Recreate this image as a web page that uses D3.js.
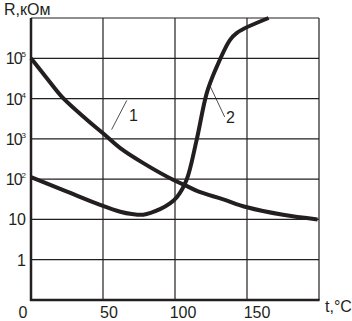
<!DOCTYPE html>
<html><head><meta charset="utf-8">
<script src="https://cdn.jsdelivr.net/npm/d3@7"></script>
<style>body{margin:0;background:#fff}svg{display:block}text{font-family:"Liberation Sans",Arial,sans-serif;fill:#231f20}</style>
</head><body>
<script>
const xTicks = [0, 50, 100, 150];
const xGrid = [50, 100, 150, 200];
const yTicks = [1, 10, 100, 1000, 10000, 100000];
const yTickExp = [null, null, 2, 3, 4, 5];
const yGrid = [1, 10, 100, 1000, 10000, 100000, 1000000];

const curve1T = [0, 11, 22, 39, 50, 62, 78, 99, 108, 117, 133, 150, 175, 199];
const curve1R = [100000, 32000, 10500, 2950, 1380, 590, 250, 95, 68, 48, 32, 20, 13, 10];

const curve2T = [0, 25, 48, 62, 70, 78, 89.6, 96.5, 101.4, 108, 115, 122, 128, 138, 143, 165];
const curve2R = [112, 49, 23, 15.5, 13.6, 13.1, 18, 25, 36, 95, 930, 13500, 51000, 280000, 430000, 1000000];

const curveLabels = ["1", "2"];

const W = 352, H = 321;
const svg = d3.select("body").append("svg").attr("width", W).attr("height", H);
const x = d3.scaleLinear().domain([0, 200]).range([31, 319]);
const y = d3.scaleLog().domain([0.1, 1e6]).range([300, 18]);
const ink = "#231f20";

// grid
svg.append("g").selectAll("line").data(xGrid).join("line")
  .attr("x1", d => x(d)).attr("x2", d => x(d)).attr("y1", y(1e6)).attr("y2", y(0.1))
  .attr("stroke", ink).attr("stroke-width", 1.2);
svg.append("g").selectAll("line").data(yGrid).join("line")
  .attr("x1", x(0)).attr("x2", x(200)).attr("y1", d => y(d)).attr("y2", d => y(d))
  .attr("stroke", ink).attr("stroke-width", 1.2);
// axes
svg.append("line").attr("x1", x(0)).attr("x2", x(0)).attr("y1", y(1e6)).attr("y2", y(0.1) + 1)
  .attr("stroke", ink).attr("stroke-width", 2.5);
svg.append("line").attr("x1", x(0) - 1).attr("x2", x(200) + 0.6).attr("y1", y(0.1)).attr("y2", y(0.1))
  .attr("stroke", ink).attr("stroke-width", 2.5);

// y tick labels
const yl = svg.append("g").selectAll("text").data(yTicks).join("text")
  .attr("x", 26).attr("y", d => y(d) + 6).attr("text-anchor", "end")
  .attr("font-size", 16);
yl.each(function(d, i) {
  const t = d3.select(this);
  if (yTickExp[i] == null) { t.text(d); }
  else {
    t.append("tspan").attr("letter-spacing", -1).text("10");
    t.append("tspan").attr("font-size", 8).attr("dy", -7).text(yTickExp[i]);
  }
});
// x tick labels
svg.append("g").selectAll("text").data(xTicks).join("text")
  .attr("x", d => d === 0 ? x(d) - 8 : x(d) + 4 + d / 25)
  .attr("y", 318).attr("text-anchor", "middle").attr("font-size", 16)
  .text(d => d);

// axis titles
svg.append("text").attr("x", 4).attr("y", 15).attr("font-size", 16).text("R,кОм");
svg.append("text").attr("x", 325).attr("y", 312).attr("font-size", 16).text("t,°C");

// curves
const line1 = d3.line().x(d => x(d[0])).y(d => y(d[1])).curve(d3.curveCatmullRom.alpha(0.5));
svg.append("path").datum(curve1T.map((t, i) => [t, curve1R[i]]))
  .attr("d", line1).attr("fill", "none").attr("stroke", ink).attr("stroke-width", 4);
svg.append("path").datum(curve2T.map((t, i) => [t, curve2R[i]]))
  .attr("d", line1).attr("fill", "none").attr("stroke", ink).attr("stroke-width", 4)
  .attr("stroke-linejoin", "round");

// leaders and labels
svg.append("line").attr("x1", x(56)).attr("y1", y(1700)).attr("x2", x(66.5)).attr("y2", y(9000))
  .attr("stroke", ink).attr("stroke-width", 0.8);
svg.append("text").attr("x", 129).attr("y", 121).attr("font-size", 16).text(curveLabels[0]);
svg.append("line").attr("x1", x(124.5)).attr("y1", y(20000)).attr("x2", x(134.5)).attr("y2", y(3500))
  .attr("stroke", ink).attr("stroke-width", 0.8);
svg.append("text").attr("x", 226).attr("y", 123).attr("font-size", 16).text(curveLabels[1]);
</script>
</body></html>
